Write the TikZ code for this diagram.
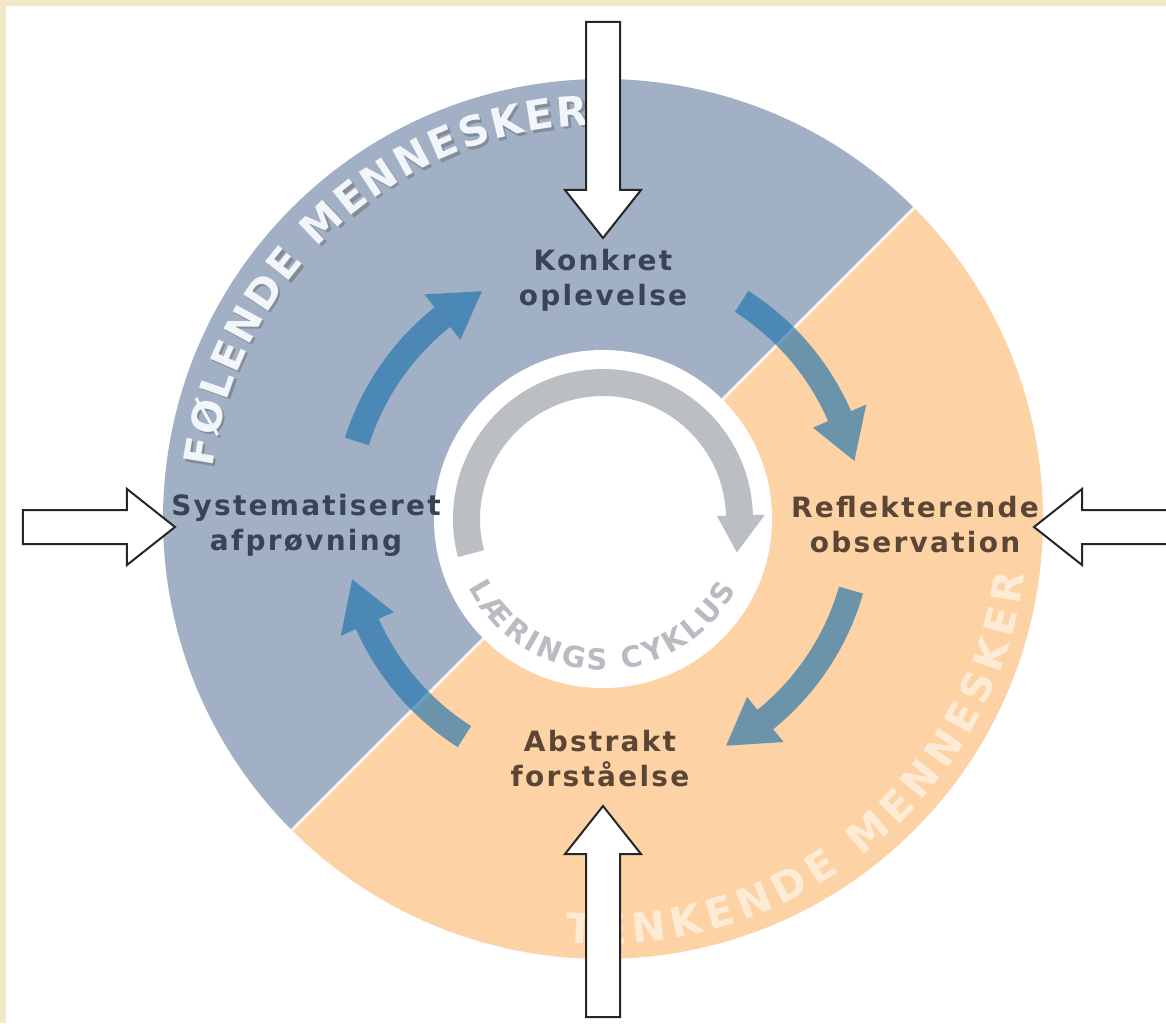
\documentclass[tikz,border=0pt]{standalone}
\usepackage{fontspec}
\setmainfont{DejaVu Sans}
\usetikzlibrary{decorations.text}
\definecolor{framebeige}{HTML}{F3E7C9}
\definecolor{feelblue}{HTML}{A1B0C4}
\definecolor{thinkorange}{HTML}{FDD3A6}
\definecolor{cyclegray}{HTML}{BBBEC3}
\definecolor{cycletext}{HTML}{B8BBC1}
\definecolor{arrowblue}{HTML}{2074AF}
\definecolor{slatetext}{HTML}{3B4255}
\definecolor{browntext}{HTML}{5B4535}
\definecolor{ringwhite}{HTML}{F2F5F9}
\definecolor{creamtext}{HTML}{FFF4E6}
\newcommand\ringfont{\fontsize{41}{41}\selectfont\bfseries}
\newcommand\cyclefont{\fontsize{29}{29}\selectfont\bfseries}
\newcommand\cyclearrow[3]{%
  \fill[cyclearrowstyle] (#1:270.5) arc[start angle=#1, end angle=#2, radius=270.5]
    -- (#2:287) -- (#3:258) -- (#2:229) -- (#2:245.5)
    arc[start angle=#2, end angle=#1, radius=245.5] -- cycle;}
\newcommand\hollowarrow[3]{%
  \draw[hollowstyle, shift={(#1)}, rotate=#2] (0,0) -- (-48,38) -- (-48,17) -- (-#3,17)
    -- (-#3,-17) -- (-48,-17) -- (-48,-38) -- cycle;}
\tikzset{
  cyclearrowstyle/.style={fill=arrowblue, fill opacity=0.66},
  hollowstyle/.style={draw=black!85, line width=2pt, fill=white, line join=miter},
  lbl/.style={align=center, inner sep=0pt,
    font=\fontsize{28}{35}\selectfont\bfseries\addfontfeatures{LetterSpace=8}},
}
\begin{document}
\begin{tikzpicture}[x=1pt,y=1pt]
\useasboundingbox (-603,-504) rectangle (563,519);
\clip (-603,-504) rectangle (563,519);
% background and frame
\fill[framebeige] (-603,-504) rectangle (563,519);
\fill[white] (-597,-504) rectangle (563,513);
% two halves of the ring
\fill[feelblue] (0,0) -- (45:440) arc[start angle=45, end angle=225, radius=440] -- cycle;
\fill[thinkorange] (0,0) -- (225:440) arc[start angle=225, end angle=405, radius=440] -- cycle;
\draw[white, line width=3pt, opacity=0.8] (45:440) -- (225:440);
% inner white disc
\fill[white] (0,0) circle[radius=169];
% grey learning cycle arrow
\fill[cyclegray] (194.7:150) arc[start angle=194.7, end angle=1.5, radius=150]
  -- (1.5:162) -- (-14:138) -- (1.5:114) -- (1.5:123)
  arc[start angle=1.5, end angle=194.7, radius=123] -- cycle;
\path[decorate, decoration={text along path, text color=cycletext,
  text={|\cyclefont|LÆRINGS CYKLUS}, text align={fit to path}}]
  (207:151) arc[start angle=207, end angle=332, radius=151];
% ring texts
\begin{scope}[opacity=0.35, shift={(2.5,-2.5)}]
\path[decorate, decoration={text along path, text color=black!70,
  text={|\ringfont|FØLENDE MENNESKER}, text align={fit to path}}]
  (172.5:394) arc[start angle=172.5, end angle=92, radius=394];
\end{scope}
\path[decorate, decoration={text along path, text color=ringwhite,
  text={|\ringfont|FØLENDE MENNESKER}, text align={fit to path}}]
  (172.5:394) arc[start angle=172.5, end angle=92, radius=394];
\begin{scope}[opacity=0.75]
\path[decorate, decoration={text along path, text color=creamtext,
  text={|\ringfont|TENKENDE MENNESKER}, text align={fit to path}}]
  (265:425) arc[start angle=265, end angle=352.5, radius=425];
\end{scope}
% blue cycle arrows
\cyclearrow{162.5}{128.5}{118}
\cyclearrow{57.5}{23.5}{13}
\cyclearrow{-16}{-51}{-61.5}
\cyclearrow{-122.5}{-156}{-166.5}
% stage labels
\node[lbl, text=slatetext] (konkret) at (0,239) {Konkret\\oplevelse};
\node[lbl, text=slatetext] (system) at (-297,-6) {Systematiseret\\afprøvning};
\node[lbl, text=browntext] (reflek) at (312,-6) {Reflekterende\\observation};
\node[lbl, text=browntext] (abstrakt) at (-3,-240) {Abstrakt\\forståelse};
% hollow input arrows
\coordinate (tipK) at (0,281);
\coordinate (tipS) at (-428,-8);
\coordinate (tipR) at (431,-8);
\coordinate (tipA) at (0,-287);
\hollowarrow{tipK}{-90}{216}
\hollowarrow{tipS}{0}{152}
\hollowarrow{tipR}{180}{170}
\hollowarrow{tipA}{90}{211}
\end{tikzpicture}
\end{document}
